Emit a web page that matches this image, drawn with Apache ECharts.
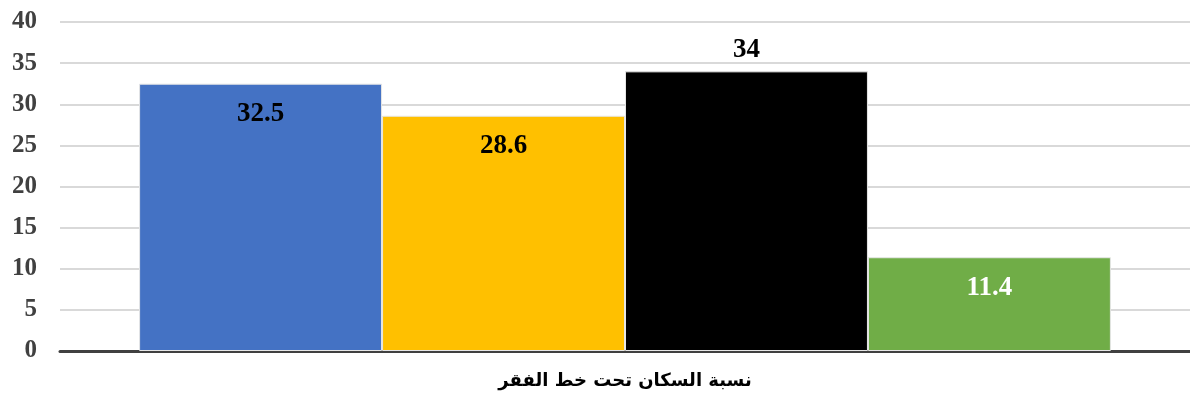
<!DOCTYPE html>
<html>
<head>
<meta charset="utf-8">
<script src="https://cdn.jsdelivr.net/npm/echarts@6/dist/echarts.min.js"></script>
<style>
  html, body { margin: 0; padding: 0; background: #fff; }
  #chart { width: 1190px; height: 401px; }
</style>
</head>
<body>
<div id="chart"></div>
<script>
// data
const categories = ['نسبة السكان تحت خط الفقر']
const seriesValues = [32.5, 28.6, 34, 11.4]
const seriesColors = ['#4472C4', '#FFC000', '#000000', '#70AD47']
const labelColors = ['#000', '#000', '#000', '#fff']
const labelPositions = ['insideTop', 'insideTop', 'top', 'insideTop']

const chart = echarts.init(document.getElementById('chart'))

const series = seriesValues.map((v, i) => ({
  type: 'bar',
  data: [v],
  barGap: '0%',
  barCategoryGap: '14%',
  itemStyle: { color: seriesColors[i], borderColor: '#e6e6e6', borderWidth: 1 },
  label: {
    show: true,
    position: labelPositions[i],
    distance: labelPositions[i] === 'top' ? 8 : 17,
    color: labelColors[i],
    fontFamily: 'Liberation Serif',
    fontWeight: 'bold',
    fontSize: 27,
  },
}))

chart.setOption({
  animation: false,
  grid: { left: 60, right: 0, top: 22, bottom: 50 },
  xAxis: {
    type: 'category',
    data: categories,
    axisTick: { show: false },
    axisLine: { lineStyle: { color: '#404040', width: 3 } },
    axisLabel: {
      margin: 21,
      color: '#000',
      fontFamily: 'DejaVu Sans',
      fontWeight: 'bold',
      fontSize: 18,
    },
  },
  yAxis: {
    type: 'value',
    min: 0,
    max: 40,
    interval: 5,
    axisLabel: {
      margin: 23,
      color: '#404040',
      fontFamily: 'Liberation Serif',
      fontWeight: 'bold',
      fontSize: 25,
    },
    splitLine: { lineStyle: { color: '#d9d9d9', width: 2 } },
  },
  series,
})
</script>
</body>
</html>
